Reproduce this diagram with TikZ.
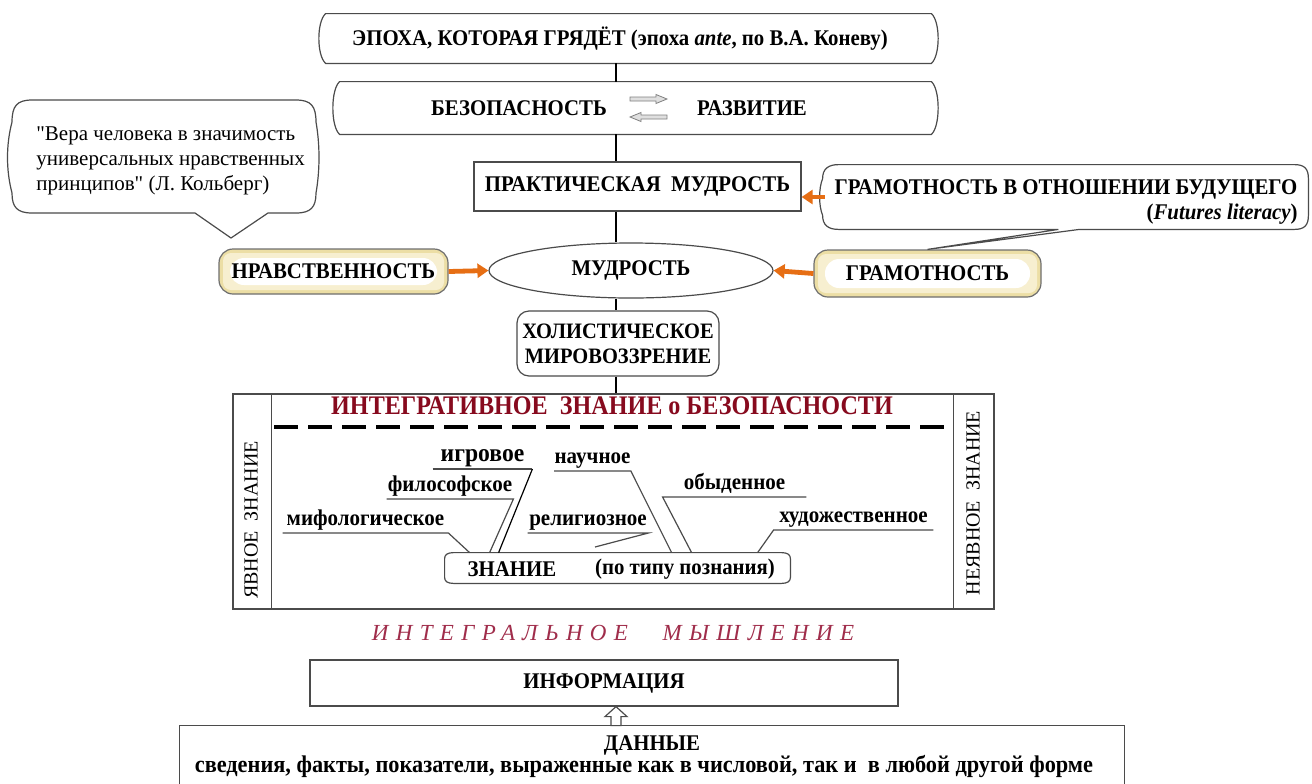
\documentclass[tikz,border=0pt]{standalone}
\usepackage{fontspec}
\setmainfont{LiberationSerif}[Extension=.ttf,UprightFont=*-Regular,BoldFont=*-Bold,ItalicFont=*-Italic,BoldItalicFont=*-BoldItalic]
\newfontfamily\serb{LiberationSerif}[Extension=.ttf,UprightFont=*-Bold,ItalicFont=*-BoldItalic,BoldFont=*-Bold,BoldItalicFont=*-BoldItalic]
\newfontfamily\serbi{LiberationSerif}[Extension=.ttf,UprightFont=*-BoldItalic,ItalicFont=*-BoldItalic,BoldFont=*-BoldItalic,BoldItalicFont=*-BoldItalic]
\newfontfamily\seri{LiberationSerif}[Extension=.ttf,UprightFont=*-Italic,ItalicFont=*-Italic,BoldFont=*-Italic,BoldItalicFont=*-Italic]
\newfontfamily\serq{LiberationSerif}[Extension=.ttf,UprightFont=*-Regular,ItalicFont=*-Italic,BoldFont=*-Regular,BoldItalicFont=*-Italic,Ligatures=TeXOff]
\usetikzlibrary{shapes.geometric,arrows.meta,calc}
\definecolor{dred}{RGB}{135,10,30}
\definecolor{mred}{RGB}{160,45,75}
\definecolor{orng}{RGB}{230,110,20}
\definecolor{beige}{RGB}{236,222,165}
\definecolor{lbeige}{RGB}{247,239,208}
\definecolor{edge}{RGB}{75,75,75}
\newcommand\fbold{\serb\fontsize{11.2}{13}\selectfont\addfontfeature{FakeStretch=0.93}}
\newcommand\flab{\serb\fontsize{11.3}{12}\selectfont\addfontfeature{FakeStretch=0.93}}
\newcommand\bit[1]{{\serbi\addfontfeature{FakeStretch=0.93}#1}}
\begin{document}
\begin{tikzpicture}[x=0.5pt,y=-0.5pt,
 every node/.style={inner sep=0pt,font=\fbold},
 ln/.style={draw=edge,line width=0.6pt},
 ul/.style={draw=edge,line width=0.6pt},
 spine/.style={draw=black,line width=1.1pt},
 oarrow/.style={draw=orng,line width=2.4pt,-{Triangle[length=5.5pt,width=7pt]}},
 lbl/.style={anchor=south,font=\flab,text depth=0.3em,inner ysep=0.5pt},
 beigebox/.style={draw=edge!80,line width=0.6pt,rounded corners=7pt,fill=beige,
   path picture={
     \fill[lbeige,rounded corners=4pt] ($(path picture bounding box.north west)+(4,4)$) rectangle ($(path picture bounding box.south east)+(-4,-4)$);
     \fill[white] ($(path picture bounding box.north west)+(11,9)$) rectangle ($(path picture bounding box.south east)+(-11,-9)$);}},
]
\useasboundingbox (0,0) rectangle (1312,783);
\fill[white] (0,0) rectangle (1312,783);
\coordinate (spx) at (616,0);

% era
\node[minimum width=302.5pt,minimum height=24.5pt] (era) at (628.5,38.5) {};
\draw[ln] (era.north west) -- (era.north east) .. controls +(9,8) and +(9,-8) .. (era.south east) -- (era.south west) .. controls +(-9,-8) and +(-9,8) .. (era.north west) -- cycle;
\node (eraT) at (620,39) {ЭПОХА, КОТОРАЯ ГРЯДЁТ (эпоха \bit{ante}, по В.А. Коневу)};

% security / development
\node[minimum width=295.5pt,minimum height=26pt] (sec) at (635.5,108) {};
\draw[ln] (sec.north west) -- (sec.north east) .. controls +(9,8) and +(9,-8) .. (sec.south east) -- (sec.south west) .. controls +(-9,-8) and +(-9,8) .. (sec.north west) -- cycle;
\node (secA) at (519,108) {БЕЗОПАСНОСТЬ};
\node (secB) at (752,108) {РАЗВИТИЕ};
\draw[draw=gray,fill=gray!25,line width=0.4pt] (630,97) -- (656,97) -- (656,94.5) -- (667,99) -- (656,103.5) -- (656,101) -- (630,101) -- cycle;
\draw[draw=gray,fill=gray!25,line width=0.4pt] (667,115) -- (641,115) -- (641,112.5) -- (630,117) -- (641,121.5) -- (641,119) -- (667,119) -- cycle;

% practical wisdom
\node[ln,draw,minimum width=163.5pt,minimum height=24.5pt] (prak) at (637.5,186.5) {ПРАКТИЧЕСКАЯ\ \ МУДРОСТЬ};

% bubble
\draw[ln] (32,100) -- (296,100) .. controls (311,100) and (316,106) .. (316,122) .. controls (320,145) and (320,170) .. (316,193) .. controls (316,207) and (311,213) .. (296,213) -- (268,213) -- (231,238) -- (195,213) -- (32,213) .. controls (17,213) and (12,207) .. (12,193) .. controls (6,170) and (6,145) .. (12,122) .. controls (12,106) and (17,100) .. (32,100) -- cycle;
\node[align=left,anchor=north west,font=\serq\fontsize{10.5}{12.5}\selectfont] (bub) at (36,126) {"Вера человека в значимость\\универсальных нравственных\\принципов" (Л. Кольберг)};

% beige boxes, wisdom
\node[beigebox,minimum width=114.5pt,minimum height=22.5pt] (nrav) at (333.5,271.5) {НРАВСТВЕННОСТЬ};
\node[beigebox,minimum width=113.5pt,minimum height=23.5pt] (gram) at (927.5,273.5) {ГРАМОТНОСТЬ};
\node[ln,draw,ellipse,minimum width=142pt,minimum height=27.5pt] (wis) at (631,270.5) {МУДРОСТЬ};

% futures literacy callout
\node[minimum width=241.5pt,minimum height=32pt] (fut) at (1066.5,197) {};
\draw[ln] ($(fut.north west)+(14,0)$) -- ($(fut.north east)+(-14,0)$) .. controls +(10,0) and +(0,-10) .. ($(fut.north east)+(0,14)$) -- ($(fut.south east)+(0,-14)$) .. controls +(0,10) and +(10,0) .. ($(fut.south east)+(-14,0)$) -- ($(fut.south east)+(-229,0)$) -- (gram.north) -- ($(fut.south east)+(-250,0)$) -- ($(fut.south west)+(14,0)$) .. controls +(-10,0) and +(0,10) .. ($(fut.south west)+(-2,-14)$) .. controls +(-4,-10) and +(-4,10) .. ($(fut.north west)+(-2,14)$) .. controls +(0,-10) and +(-10,0) .. ($(fut.north west)+(14,0)$) -- cycle;
\node (futA) at (1066,189) {ГРАМОТНОСТЬ В ОТНОШЕНИИ БУДУЩЕГО};
\node[anchor=east] (futB) at (1298,214) {(\bit{Futures literacy})};

% holistic
\node[ln,draw,rounded corners=6pt,minimum width=101pt,minimum height=32.5pt,align=center,font=\serb\fontsize{11}{12.5}\selectfont\addfontfeature{FakeStretch=0.93}] (hol) at (618,343.5) {ХОЛИСТИЧЕСКОЕ\\МИРОВОЗЗРЕНИЕ};

% frame
\node[ln,draw,minimum width=380.5pt,minimum height=107.5pt] (frame) at (613.5,501.5) {};
\draw[ln] ($(frame.north west)+(39,0)$) -- ($(frame.south west)+(39,0)$);
\draw[ln] ($(frame.north east)+(-41,0)$) -- ($(frame.south east)+(-41,0)$);
\node[rotate=90,font=\fontsize{10}{11}\selectfont] (expl) at (251,520) {ЯВНОЕ\ \ ЗНАНИЕ};
\node[rotate=90,font=\fontsize{10}{11}\selectfont] (impl) at (973,503) {НЕЯВНОЕ\ \ ЗНАНИЕ};
\node[font=\serb\fontsize{13.4}{15}\selectfont\addfontfeature{FakeStretch=0.9},text=dred] (title) at (612,406) {ИНТЕГРАТИВНОЕ\ \ ЗНАНИЕ о БЕЗОПАСНОСТИ};
\draw[line width=2pt,dash pattern=on 12pt off 5pt] ($(frame.north west)+(42,34)$) -- ($(frame.north east)+(-44,34)$);

% knowledge kinds
\node[minimum width=172.5pt,minimum height=15pt] (zn) at (617.5,568) {};
\draw[ln] ($(zn.north west)+(9,0)$) -- ($(zn.north east)+(-9,0)$) .. controls +(6,0) and +(0,-4) .. ($(zn.north east)+(0,6)$) -- ($(zn.south east)+(0,-6)$) .. controls +(0,4) and +(6,0) .. ($(zn.south east)+(-9,0)$) -- ($(zn.south west)+(9,0)$) .. controls +(-6,0) and +(0,4) .. ($(zn.south west)+(0,-6)$) -- ($(zn.north west)+(0,6)$) .. controls +(0,-4) and +(-6,0) .. ($(zn.north west)+(9,0)$) -- cycle;
\node (znA) at (512,569) {ЗНАНИЕ};
\node (znB) at (685,569) {(по типу познания)};

\node[lbl,minimum width=49.5pt,font=\serb\fontsize{12.7}{14}\selectfont\addfontfeature{FakeStretch=0.93}] (lgame) at (482.5,469) {игровое};
\node[lbl,minimum width=63pt] (lphil) at (450,499) {философское};
\node[lbl,minimum width=82.5pt] (lmyth) at (365.5,533) {мифологическое};
\node[lbl,minimum width=60pt] (lrel) at (588,533) {религиозное};
\node[lbl,minimum width=37.5pt] (lsci) at (592.5,471) {научное};
\node[lbl,minimum width=71.5pt] (lord) at (734.5,497) {обыденное};
\node[lbl,minimum width=79.5pt] (lart) at (853.5,530) {художественное};
\coordinate (relend) at (595,547);
\draw[ul] (lgame.south west) -- (lgame.south east);
\draw[black,line width=0.6pt] (lgame.south east) -- ($(zn.north west)+(54,0)$);
\draw[ul] (lphil.south west) -- (lphil.south east) -- ($(zn.north west)+(45,0)$);
\draw[ul] (lmyth.south west) -- (lmyth.south east) -- ($(zn.north west)+(25,0)$);
\draw[ul] (lrel.south west) -- (lrel.south east) -- (relend);
\draw[ul] (lsci.south west) -- (lsci.south east) -- ($(zn.north west)+(227,0)$);
\draw[ul] (lord.south east) -- (lord.south west) -- ($(zn.north west)+(247,0)$);
\draw[ul] (lart.south east) -- (lart.south west) -- ($(zn.north west)+(313,0)$);

% integral thinking
\node[font=\seri\fontsize{11.5}{13}\selectfont\addfontfeature{LetterSpace=32},text=mred] (integ) at (613,633) {ИНТЕГРАЛЬНОЕ\hspace{1.5em}МЫШЛЕНИЕ};

% information and data
\node[ln,draw,minimum width=294pt,minimum height=23pt] (info) at (604,683) {ИНФОРМАЦИЯ};
\node[minimum width=472pt,minimum height=37pt] (data) at (652,763) {};
\draw[ln] (data.south west) -- (data.north west) -- (data.north east) -- (data.south east);
\node (dataT) at (652,745) {ДАННЫЕ};
\node[font=\serb\fontsize{12}{13}\selectfont\addfontfeature{FakeStretch=0.93}] (dataS) at (644,766) {сведения, факты, показатели, выраженные как в числовой, так и\ \ в любой другой форме};
\draw[ln,fill=white] ($(data.north -| spx)+(-5,0)$) -- ($(info.south -| spx)+(-5,10)$) -- ($(info.south -| spx)+(-11,10)$) -- (info.south -| spx) -- ($(info.south -| spx)+(11,10)$) -- ($(info.south -| spx)+(5,10)$) -- ($(data.north -| spx)+(5,0)$) -- cycle;

% spine
\draw[spine] (era.south -| spx) -- (sec.north -| spx);
\draw[spine] (sec.south -| spx) -- (prak.north -| spx);
\draw[spine] (prak.south -| spx) -- (wis.north -| spx);
\draw[spine] (wis.south -| spx) -- (hol.north -| spx);
\draw[spine] (hol.south -| spx) -- (frame.north -| spx);

% orange arrows
\draw[oarrow] (nrav.east) -- (wis.west);
\draw[oarrow] (gram.west) -- (wis.east);
\draw[oarrow] (fut.west) -- (fut.west -| prak.east);
\end{tikzpicture}
\end{document}
